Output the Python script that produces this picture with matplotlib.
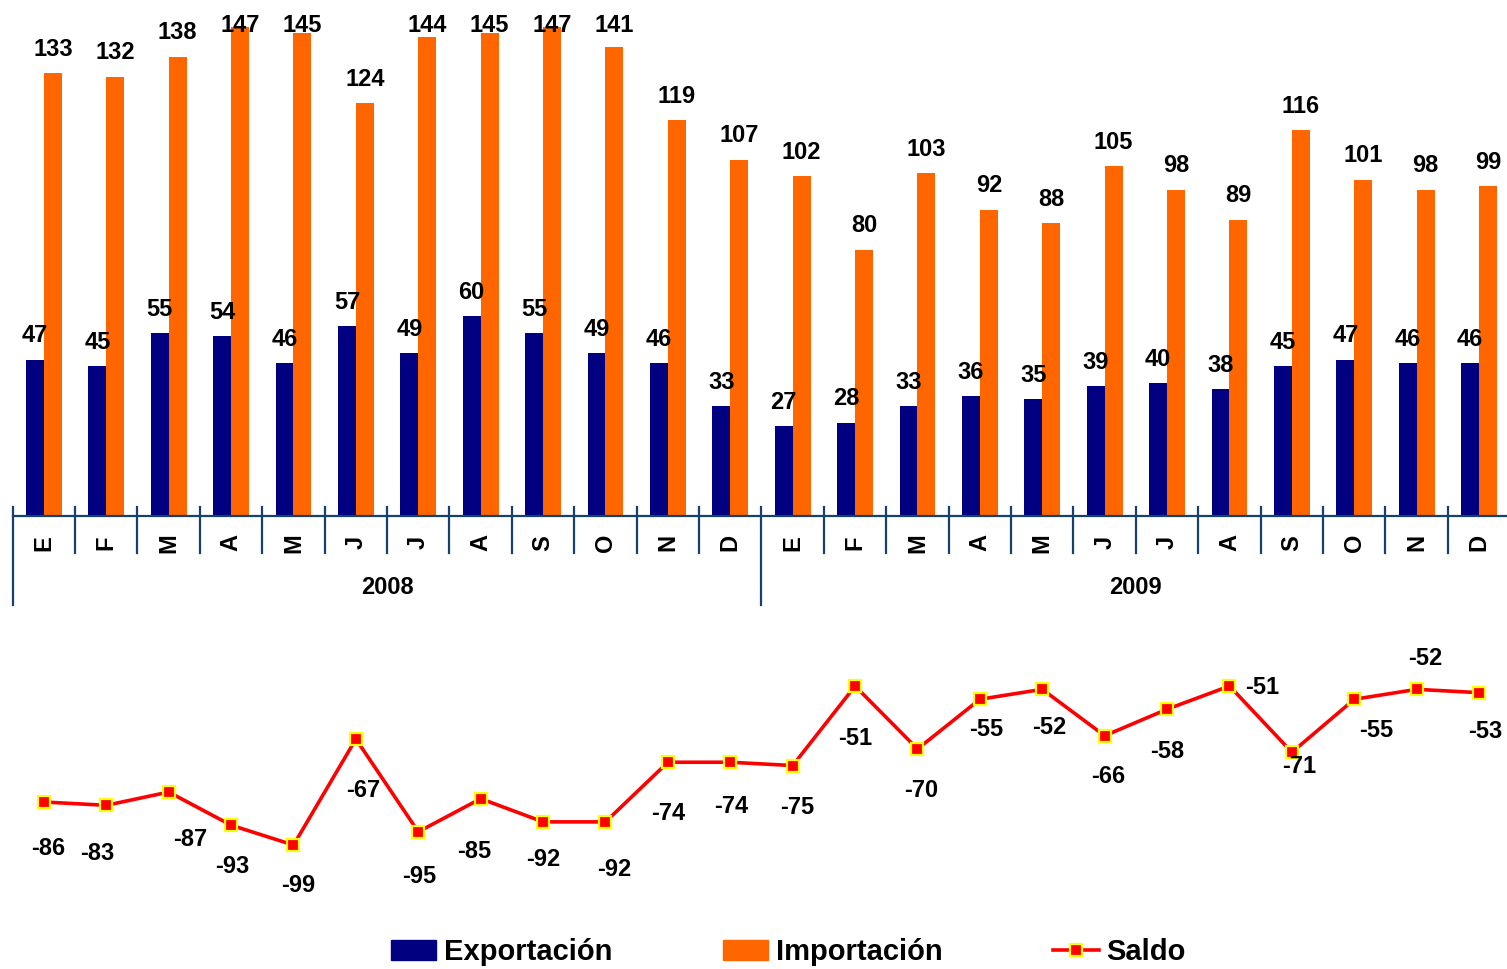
import matplotlib.pyplot as plt
from matplotlib.lines import Line2D
from matplotlib.patches import Patch
import matplotlib.transforms as mtransforms

plt.rcParams['font.family'] = ['Liberation Sans', 'DejaVu Sans']

months = ['E', 'F', 'M', 'A', 'M', 'J', 'J', 'A', 'S', 'O', 'N', 'D'] * 2
years = ['2008', '2009']

exportacion = [47, 45, 55, 54, 46, 57, 49, 60, 55, 49, 46, 33,
               27, 28, 33, 36, 35, 39, 40, 38, 45, 47, 46, 46]
importacion = [133, 132, 138, 147, 145, 124, 144, 145, 147, 141, 119, 107,
               102, 80, 103, 92, 88, 105, 98, 89, 116, 101, 98, 99]
saldo = [-86, -87, -83, -93, -99, -67, -95, -85, -92, -92, -74, -74,
         -75, -51, -70, -55, -52, -66, -58, -51, -71, -55, -52, -53]
saldo_labels = ['-86', '-83', '-87', '-93', '-99', '-67', '-95', '-85', '-92', '-92', '-74', '-74',
                '-75', '-51', '-70', '-55', '-52', '-66', '-58', '-51', '-71', '-55', '-52', '-53']

navy = '#000080'
orange = '#FF6600'
axis_col = '#17406D'

fig = plt.figure(figsize=(15.07, 9.69), dpi=100)
W, H = 1507, 969

# bar chart
ax1 = fig.add_axes([12.7 / W, 1 - 516 / H, 1497.6 / W, 516 / H])
x = list(range(len(months)))
bw = 0.288
ax1.bar([i - bw / 2 for i in x], exportacion, width=bw, color=navy)
ax1.bar([i + bw / 2 for i in x], importacion, width=bw, color=orange)
ax1.set_xlim(-0.5, len(months) - 0.5)
ax1.set_ylim(0, 155)
for s in ['top', 'right', 'left']:
    ax1.spines[s].set_visible(False)
ax1.spines['bottom'].set_color(axis_col)
ax1.spines['bottom'].set_linewidth(1.6)
ax1.set_xticks([])
ax1.set_yticks([])

cap = 145.3
for i in x:
    ax1.text(i - bw / 2, min(exportacion[i] + 5.2, cap), str(exportacion[i]),
             ha='center', va='baseline', fontsize=17, fontweight='bold')
    ax1.text(i + bw / 2, min(importacion[i] + 5.2, cap), str(importacion[i]),
             ha='center', va='baseline', fontsize=17, fontweight='bold')

trans = mtransforms.blended_transform_factory(ax1.transData, ax1.transAxes)
for k in range(len(months) + 1):
    b = k - 0.5
    low = -0.1725 if k % 12 == 0 else -0.0717
    ax1.plot([b, b], [0.0174, low], color=axis_col, lw=1.6, transform=trans, clip_on=False)
for i, m in enumerate(months):
    ax1.text(i, -0.052, m, rotation=90, ha='center', va='center', fontsize=17,
             fontweight='bold', transform=trans)
for j, yr in enumerate(years):
    ax1.text(j * 12 + 5.5, -0.1395, yr, ha='center', va='center', fontsize=17,
             fontweight='bold', transform=trans)

# saldo line
ax2 = fig.add_axes([12.7 / W, 1 - 910 / H, 1497.6 / W, 290 / H])
ax2.plot(x, saldo, color='#FF0000', lw=2.6, marker='s', markersize=9,
         markerfacecolor='#FF0000', markeredgecolor='#FFFF00', markeredgewidth=1.6)
ax2.set_xlim(-0.5, len(months) - 0.5)
ax2.set_ylim(-118.6, -31.07)
ax2.axis('off')

offsets_px = [(4, 47), (-9, 48), (21, 47), (1, 41), (5, 40), (7, 51), (1, 45), (-7, 53),
              (0, 38), (9, 48), (0, 51), (1, 44), (4, 42), (0, 52), (4, 42), (6, 30),
              (7, 38), (3, 41), (0, 42), (33, 1), (7, 14), (22, 31), (9, -31), (6, 39)]
for i in x:
    dx, dy = offsets_px[i]
    ax2.annotate(saldo_labels[i], (i, saldo[i]), xytext=(dx * 0.72, -dy * 0.72),
                 textcoords='offset points', ha='center', va='center',
                 fontsize=17, fontweight='bold', annotation_clip=False)

handles = [Patch(color=navy), Patch(color=orange),
           Line2D([], [], color='#FF0000', lw=2.6, marker='s', markersize=9,
                  markerfacecolor='#FF0000', markeredgecolor='#FFFF00', markeredgewidth=1.6)]
fig.legend(handles, ['Exportación', 'Importación', 'Saldo'], loc='center',
           bbox_to_anchor=(0.523, 0.0175), ncol=3, frameon=False,
           prop={'size': 21, 'weight': 'bold'}, handlelength=1.55,
           handletextpad=0.27, columnspacing=3.8)

fig.savefig('out.png', dpi=100)
